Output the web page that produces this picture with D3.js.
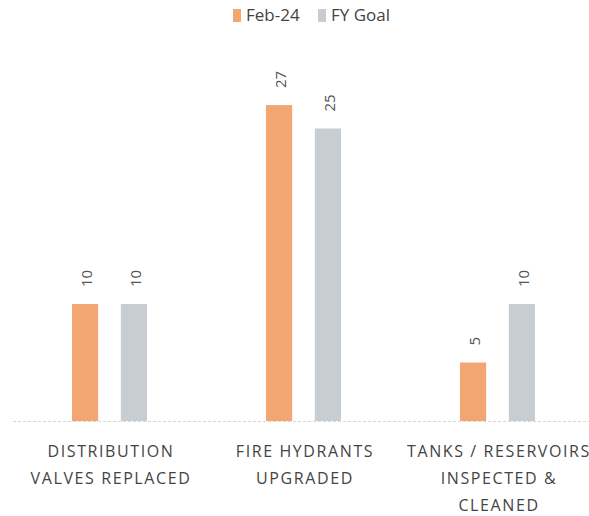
<!DOCTYPE html>
<html>
<head>
<meta charset="utf-8">
<script src="https://cdn.jsdelivr.net/npm/d3@7"></script>
<style>
  html, body { margin: 0; padding: 0; background: #fff; }
  svg { display: block; font-family: "Open Sans", "DejaVu Sans", sans-serif; }
</style>
</head>
<body>
<svg id="chart" width="589" height="516"></svg>
<script>
// Monthly water-system work against the fiscal-year goal
const categories = [
  ["DISTRIBUTION", "VALVES REPLACED"],
  ["FIRE HYDRANTS", "UPGRADED"],
  ["TANKS / RESERVOIRS", "INSPECTED &", "CLEANED"]
];
const seriesNames = ["Feb-24", "FY Goal"];
const feb24 = [10, 27, 5];
const fyGoal = [10, 25, 10];

const colors = ["#F3A671", "#C7CDD0"];
const series = [feb24, fyGoal];

const svg = d3.select("#chart");
const margin = { left: 13, right: -6 };
const width = 589;
const baseY = 421;

const x0 = d3.scaleBand()
  .domain(d3.range(categories.length))
  .range([margin.left, width - margin.right])
  .paddingInner(0).paddingOuter(0);

const x1 = d3.scaleBand()
  .domain(d3.range(seriesNames.length))
  .range([x0.bandwidth() / 2 - 38, x0.bandwidth() / 2 + 37])
  .paddingInner(0.465).paddingOuter(0);

const y = d3.scaleLinear().domain([0, 30]).range([baseY, baseY - 30 * 11.7]);

// baseline
svg.append("line")
  .attr("x1", margin.left).attr("x2", width)
  .attr("y1", baseY + 0.5).attr("y2", baseY + 0.5)
  .attr("stroke", "#d6d6d6").attr("stroke-width", 1)
  .attr("stroke-dasharray", "3,2");

const groups = svg.selectAll("g.cat")
  .data(categories)
  .join("g")
  .attr("class", "cat")
  .attr("transform", (d, i) => `translate(${x0(i)},0)`);

groups.each(function (cat, ci) {
  const g = d3.select(this);
  series.forEach((vals, si) => {
    const v = vals[ci];
    g.append("rect")
      .attr("x", x1(si))
      .attr("width", x1.bandwidth())
      .attr("y", y(v))
      .attr("height", y(0) - y(v))
      .attr("fill", colors[si]);
    const lx = x1(si) + x1.bandwidth() / 2;
    const ly = y(v) - 17;
    g.append("text")
      .attr("transform", `translate(${lx + 7},${ly}) rotate(-90)`)
      .attr("text-anchor", "start")
      .attr("font-size", 15)
      .attr("fill", "#555")
      .text(v);
  });
  const t = g.append("text")
    .attr("text-anchor", "middle")
    .attr("font-size", 16)
    .attr("letter-spacing", 1.6)
    .attr("fill", "#444");
  cat.forEach((line, li) => {
    t.append("tspan")
      .attr("x", x0.bandwidth() / 2 + 1)
      .attr("y", 457 + li * 27)
      .text(line);
  });
});

// legend
const legend = svg.append("g").attr("transform", "translate(233,0)");
const legendX = [0, 85];
seriesNames.forEach((name, i) => {
  legend.append("rect")
    .attr("x", legendX[i]).attr("y", 9)
    .attr("width", 8).attr("height", 13)
    .attr("fill", colors[i]);
  legend.append("text")
    .attr("x", legendX[i] + 13).attr("y", 21)
    .attr("font-size", 17)
    .attr("fill", "#444")
    .text(name);
});
</script>
</body>
</html>
